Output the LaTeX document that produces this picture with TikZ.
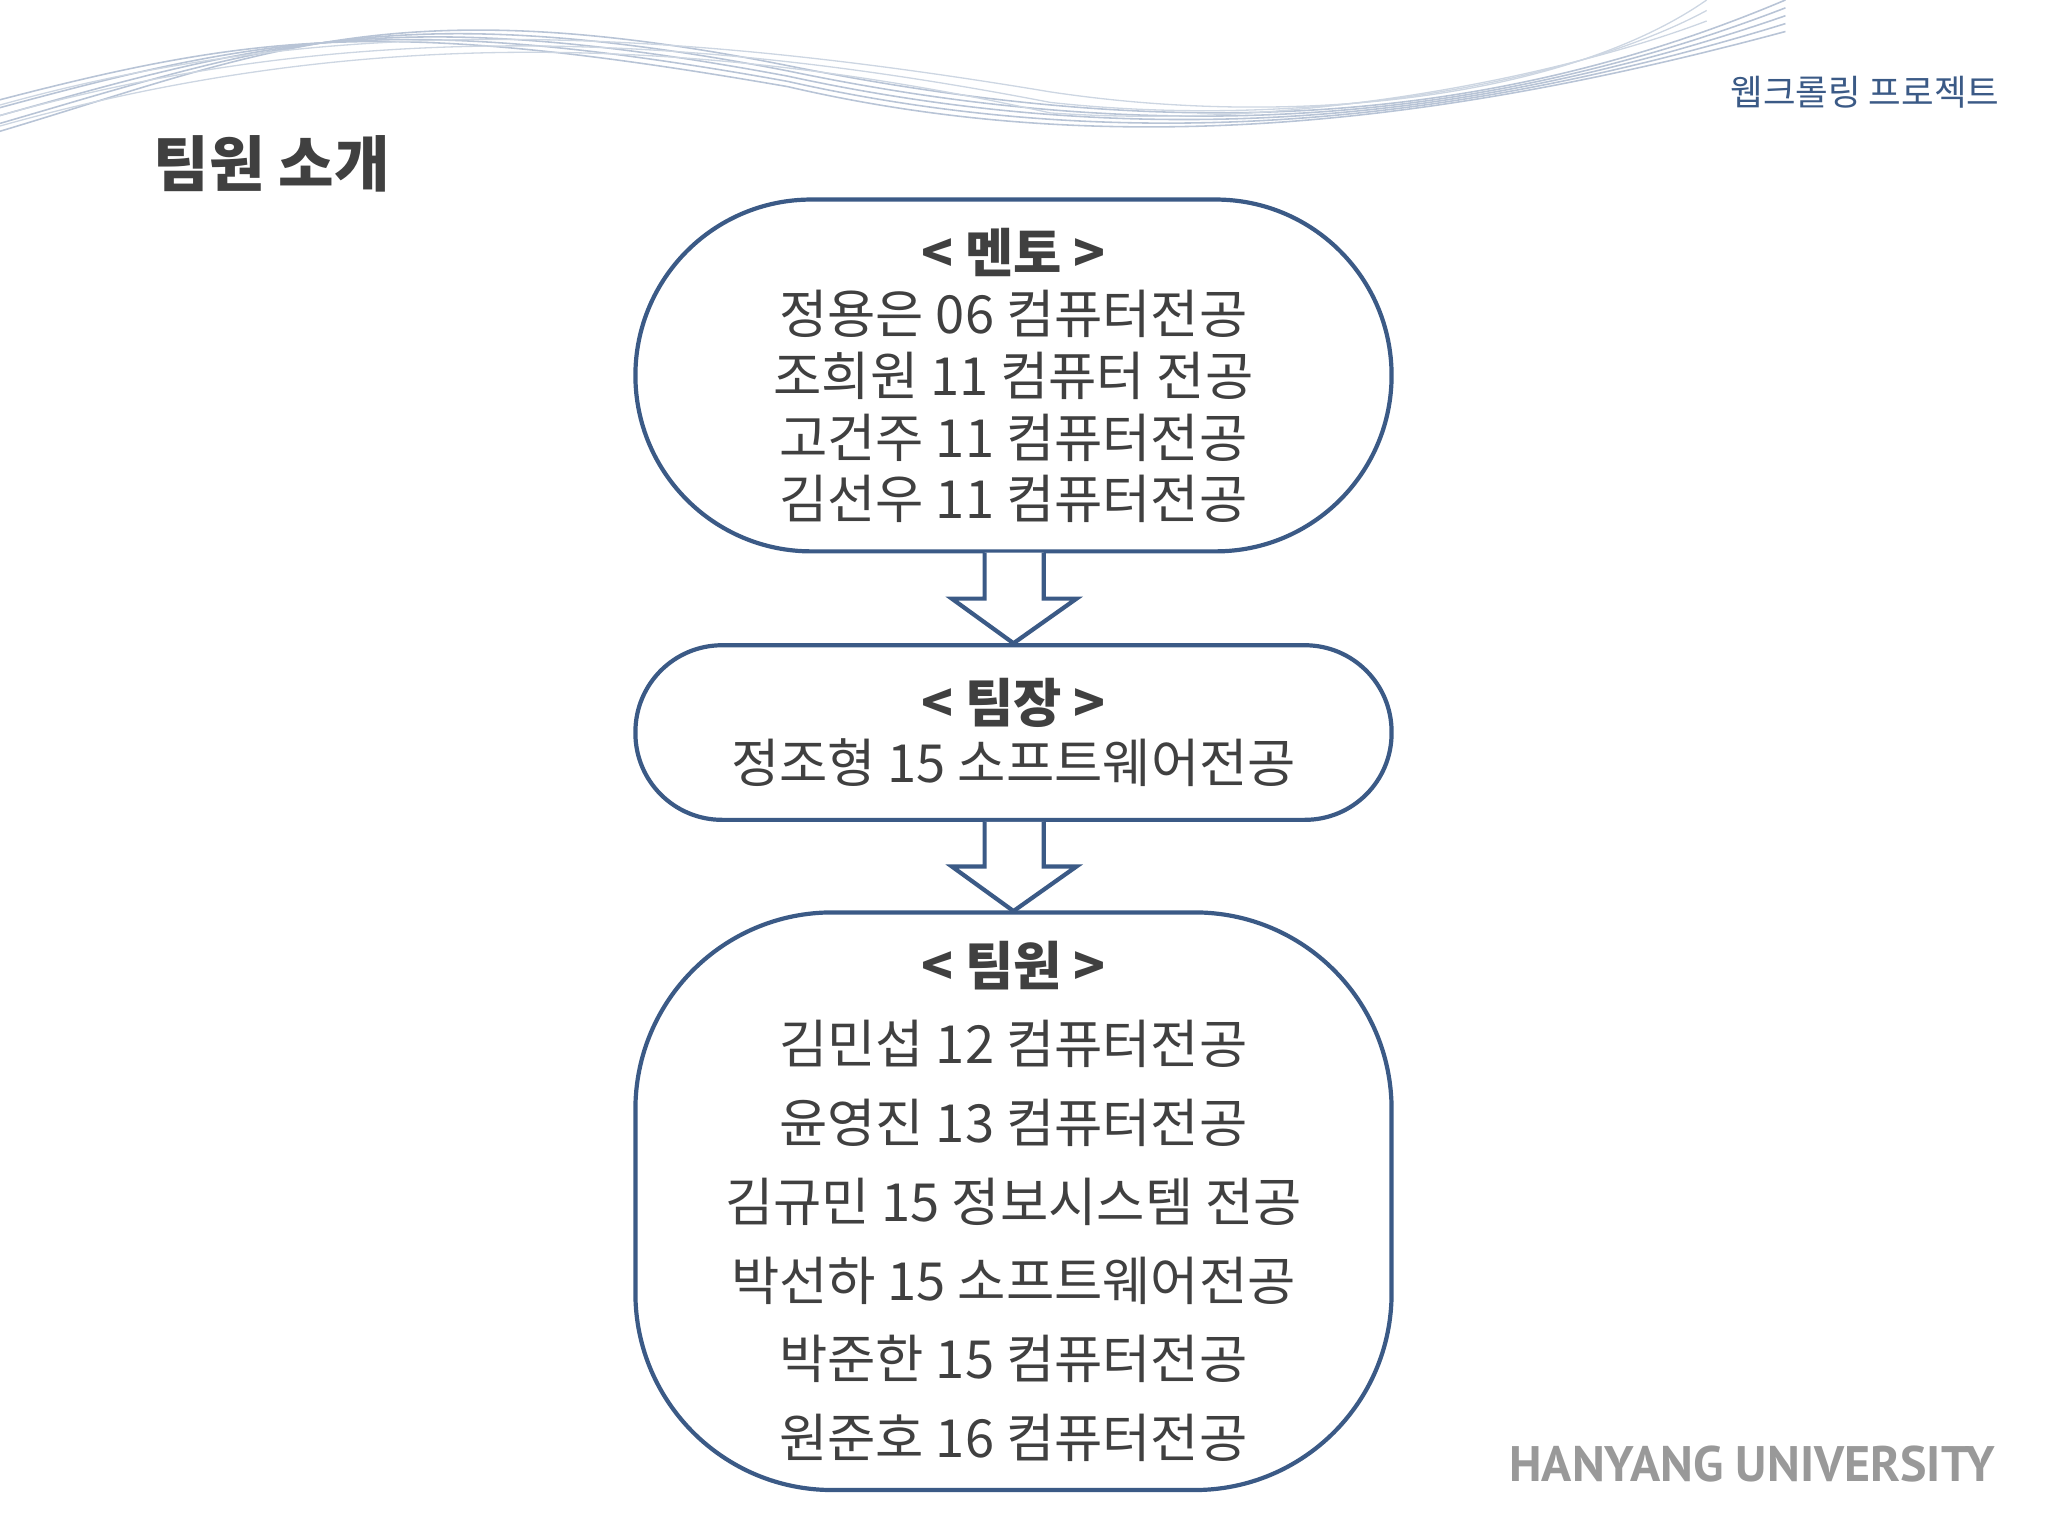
\documentclass[tikz,border=0pt]{standalone}
\usepackage{fontspec}
\setmainfont{Noto Sans CJK KR}
\newfontfamily\hyfont{PT Sans}
\definecolor{boxblue}{HTML}{3B5A86}
\definecolor{txt}{HTML}{404040}
\definecolor{wave}{HTML}{B8C4D6}
\begin{document}
\begin{tikzpicture}[x=0.5pt,y=-0.5pt,
  stadium/.style={draw=boxblue,line width=1.6pt,fill=white,minimum width=288pt,text=txt,align=center},
  blockarrow/.style={draw=boxblue,line width=1.6pt,fill=white,line join=miter}]
\useasboundingbox (0,0) rectangle (1560,1170);
\foreach \a/\b in {0/0,6/4,12/8,18/12,24/16}{
 \draw[wave,line width=0.6pt] (0,{100-\a}) .. controls (200,{40-\b}) and (300,{-10+\a}) .. (600,{50+\b}) .. controls (850,{100+\a}) and (1100,{110-\b}) .. (1360,{0+\a});
}
\foreach \a in {0,8,16}{
 \draw[wave!70,line width=0.5pt] (0,{80+\a}) .. controls (250,{10+\a}) and (500,{20}) .. (800,{70+\a}) .. controls (1000,{100}) and (1200,{70-\a}) .. (1300,{0+\a});
}
\node[anchor=west,text=txt,font=\fontsize{23}{26}\selectfont\bfseries] (title) at (110,125) {팀원 소개};
\node[anchor=east,text=boxblue,font=\fontsize{13.5}{15}\selectfont] (proj) at (1530,70) {웹크롤링 프로젝트};
\node[anchor=east,text=black!40,font=\hyfont\bfseries\fontsize{19}{21}\selectfont] (hy) at (1527,1115) {HANYANG UNIVERSITY};
\node[stadium,rounded corners=67pt,minimum height=134pt,font=\fontsize{20}{23.5}\selectfont] (mentor) at (772,286)
 {\textbf{< 멘토 >}\\정용은 06 컴퓨터전공\\조희원 11 컴퓨터 전공\\고건주 11 컴퓨터전공\\김선우 11 컴퓨터전공};
\node[stadium,rounded corners=33pt,minimum height=66.5pt,font=\fontsize{20}{23}\selectfont] (leader) at (772,558)
 {\textbf{< 팀장 >}\\정조형 15 소프트웨어전공};
\node[stadium,rounded corners=75pt,minimum height=220pt,font=\fontsize{20}{30}\selectfont] (members) at (772,915)
 {\textbf{< 팀원 >}\\김민섭 12 컴퓨터전공\\윤영진 13 컴퓨터전공\\김규민 15 정보시스템 전공\\박선하 15 소프트웨어전공\\박준한 15 컴퓨터전공\\원준호 16 컴퓨터전공};
\draw[blockarrow] (750,421) -- (750,456) -- (725,456) -- (772,490) -- (820,456) -- (795,456) -- (795,421);
\draw[blockarrow] (750,626) -- (750,660) -- (725,660) -- (772,694) -- (820,660) -- (795,660) -- (795,626);
\end{tikzpicture}
\end{document}
